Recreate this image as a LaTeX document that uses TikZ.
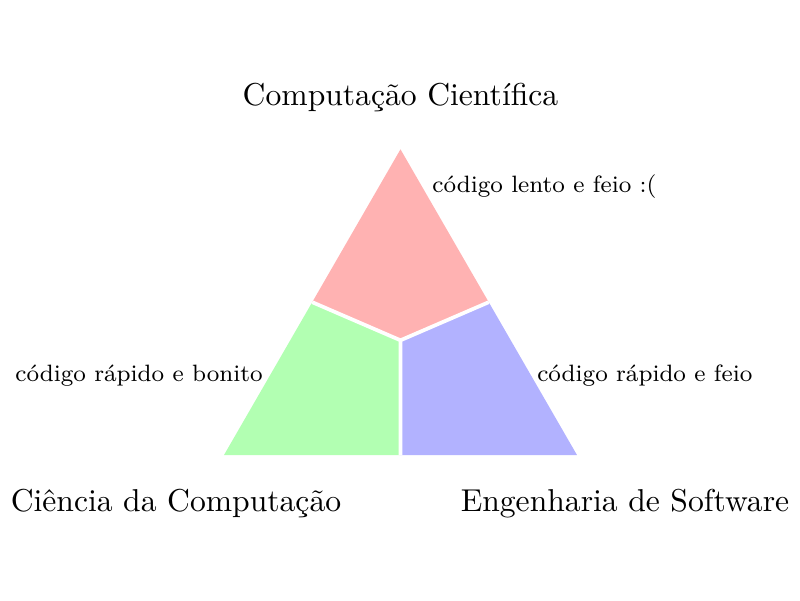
\documentclass[tikz,border=0pt]{standalone}
\usepackage{tikz}
\usetikzlibrary{positioning}

\begin{document}
\begin{tikzpicture}[font=\fontsize{7.63}{9}\selectfont, divide/.style={white, very thick}, area/.style={font=\fontsize{10.2}{12}\selectfont}]
\useasboundingbox (-2.538,-1.643) rectangle (6.527,5.156);
\coordinate (a) at (0,0);
\coordinate (b) at (4,0);
\coordinate (c) at (2,3.464);
\coordinate (m) at (2,1.3);
\coordinate (ac) at (1,1.732);
\coordinate (bc) at (3,1.732);
\coordinate (ab) at (2,0);
\fill[red!30] (c) -- (ac) -- (m) -- (bc) -- cycle;
\fill[green!30] (a) -- (ab) -- (m) -- (ac) -- cycle;
\fill[blue!30] (b) -- (bc) -- (m) -- (ab) -- cycle;
\draw[divide] (ac) -- (m) -- (bc) (m) -- (ab);
\node[area] (cc) at (2,4.047) {Computação Científica};
\node[area] (cdc) at (-0.544,-0.545) {Ciência da Computação};
\node[area] (es) at (4.544,-0.545) {Engenharia de Software};
\node[anchor=west] (lento) at (2.237,3.037) {código lento e feio :(};
\node[anchor=east] (bonito) at (0.562,0.895) {código rápido e bonito};
\node[anchor=west] (rfeio) at (3.426,0.895) {código rápido e feio};
\end{tikzpicture}
\end{document}
